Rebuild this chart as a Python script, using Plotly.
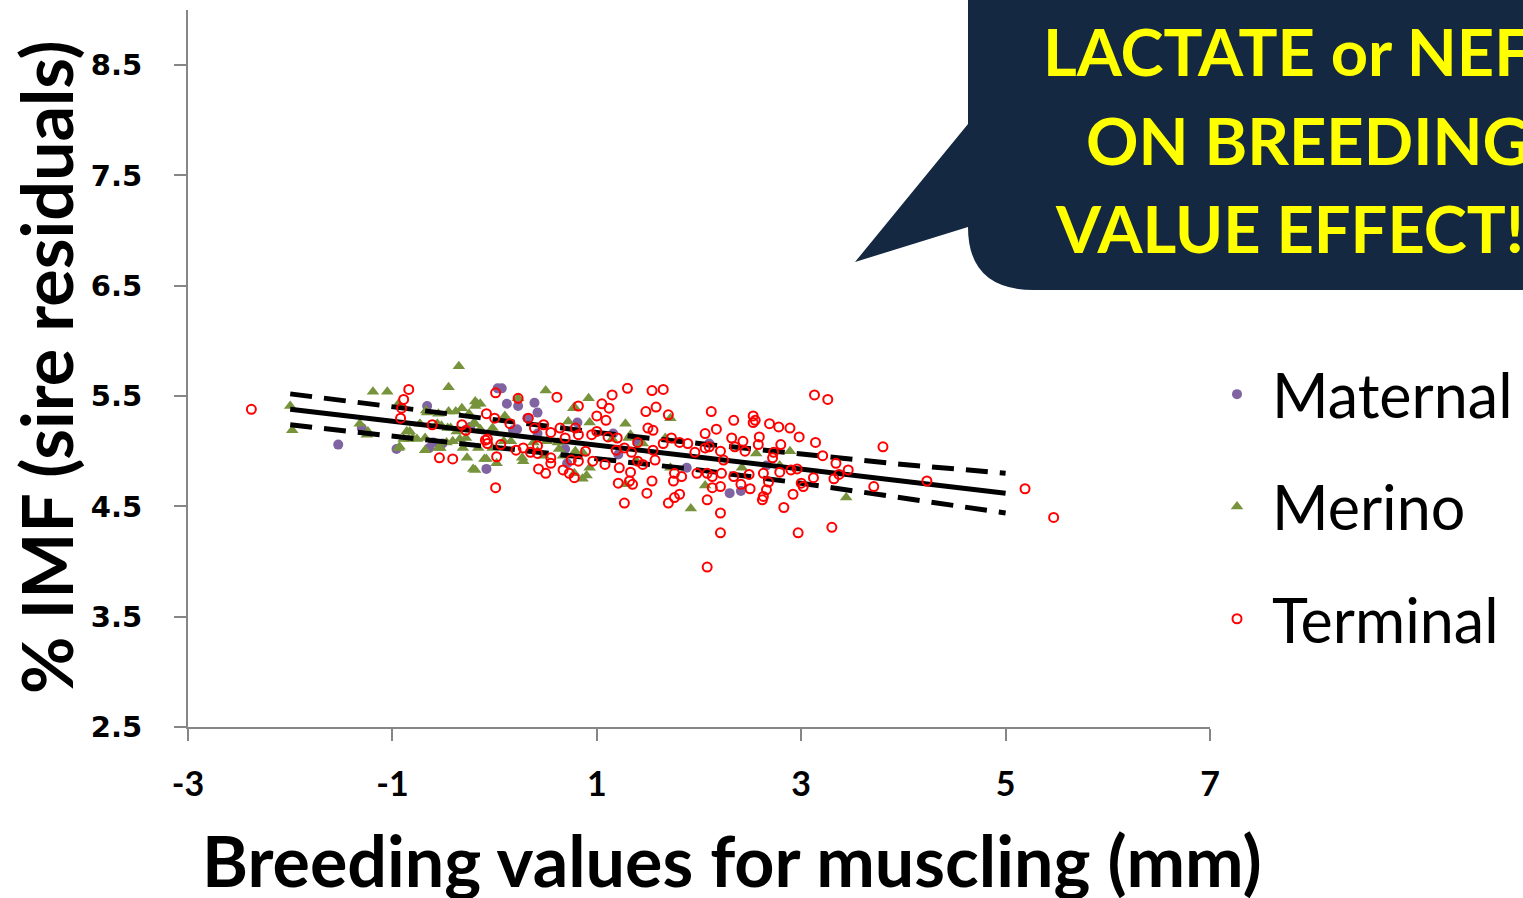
import plotly.graph_objects as go

# ---------------- data ----------------
terminal_x = [-2.38, -0.84, -0.89, -0.91, -0.92, -0.61, -0.32, -0.28, -0.08, -0.07, -0.07, -0.54, -0.41,
              0.01, 0.61, 0.23, 1.30, 1.54, 1.65, 0.82, 1.15, 1.05, 1.12, 1.58, 1.48, 1.00, 1.09, 1.70,
              2.12, 2.17, 0.00, 0.15, 0.33, 0.39, 0.48, 0.55, 0.64, 0.79, 0.82, 0.69, 0.95, 1.00, 1.11,
              1.20, 1.19, 1.27, 1.34, 1.40, 1.50, 1.55, 1.55, 1.65, 1.73, 1.81, 1.89, 1.96, 2.06, 2.10,
              2.21, 2.06, -0.09, 0.06, 0.02, 0.21, 0.28, 0.35, 0.42, 0.42, 0.55, 0.55, 0.43, 0.50, 0.67,
              0.73, 0.78, 0.75, 0.82, 0.89, 0.96, 1.08, 1.22, 1.33, 1.32, 1.35, 1.21, 1.40, 1.45, 1.57,
              1.54, 1.49, 1.76, 1.75, 1.83, 1.81, 1.76, 1.70, 1.27, 1.98, 2.08, 2.13, 2.22, 2.13, 2.21,
              2.08, 0.01, 3.13, 3.26, 2.34, 2.53, 2.55, 2.53, 2.69, 2.78, 2.89, 2.98, 2.32, 2.43, 2.59,
              2.58, 2.35, 2.45, 2.80, 3.14, 2.73, 2.72, 3.21, 3.34, 3.80, 3.46, 3.37, 2.24, 2.34, 2.49,
              2.63, 2.68, 2.79, 2.90, 2.96, 3.12, 3.32, 3.71, 4.23, 2.41, 2.50, 3.00, 3.02, 2.66, 2.63,
              2.62, 2.92, 2.83, 2.21, 2.21, 2.97, 3.30, 5.19, 5.47, 2.08]
terminal_y = [5.38, 5.56, 5.47, 5.39, 5.30, 5.24, 5.24, 5.19, 5.34, 5.11, 5.07, 4.94, 4.93,
              5.53, 5.49, 5.48, 5.57, 5.55, 5.56, 5.41, 5.51, 5.43, 5.39, 5.40, 5.36, 5.32, 5.28, 5.33,
              5.36, 5.20, 5.30, 5.25, 5.30, 5.21, 5.24, 5.17, 5.21, 5.21, 5.15, 5.12, 5.15, 5.18, 5.13,
              5.12, 5.01, 5.03, 4.99, 5.08, 5.21, 5.19, 5.01, 5.07, 5.12, 5.08, 5.07, 4.99, 5.03, 5.04,
              5.00, 5.16, 5.10, 5.06, 4.95, 5.01, 5.03, 4.99, 4.98, 5.05, 4.94, 4.89, 4.84, 4.80, 4.83,
              4.80, 4.76, 4.92, 4.91, 5.00, 4.91, 4.88, 4.85, 4.81, 4.73, 4.70, 4.71, 4.91, 4.88, 4.92,
              4.73, 4.62, 4.80, 4.73, 4.77, 4.61, 4.58, 4.53, 4.53, 4.80, 4.80, 4.77, 4.80, 4.67, 4.68,
              4.56, 4.67, 5.51, 5.47, 5.28, 5.32, 5.28, 5.26, 5.25, 5.22, 5.21, 5.13, 5.12, 5.09, 5.13,
              5.06, 5.04, 5.00, 5.06, 5.08, 4.99, 4.94, 4.96, 4.89, 5.04, 4.83, 4.79, 4.92, 4.77, 4.79,
              4.80, 4.72, 4.81, 4.83, 4.84, 4.76, 4.75, 4.68, 4.73, 4.70, 4.66, 4.71, 4.68, 4.65, 4.59,
              4.56, 4.61, 4.49, 4.44, 4.26, 4.26, 4.31, 4.66, 4.40, 3.95]

merino_x = [-0.35, -0.45, -1.19, -1.05, -2.00, -1.98, -1.32, -1.24, -1.25, -0.94, -0.67, -0.55, -0.45,
            -0.38, -0.32, -0.19, -0.19, -0.73, -0.83, -0.80, -0.89, -0.68, -0.56, -0.52, -0.46, -0.41,
            -0.34, -0.31, -0.53, -0.93, -0.21, -0.21, -0.10, 0.23, -0.66, -0.25, -0.17, -0.02, -0.43,
            -0.37, -0.19, -0.14, -0.28, -0.47, -0.86, -0.84, -0.76, -0.94, -0.68, -0.55, -0.16, -0.02,
            0.09, 0.16, 0.28, 0.02, -0.19, -0.08, -0.27, 0.38, 0.50, 0.92, 0.78, -0.14, 1.28, 0.72,
            0.93, 0.10, 1.31, 1.45, 1.67, 0.27, 0.48, 0.67, 0.87, 0.90, 0.93, 0.62, 0.51, 2.06, 1.92,
            2.56, 2.89, 2.42, 2.79, 3.44, 0.77, 1.72, 1.33, 0.63, 0.79, 0.42, 0.86, 0.78, 1.28, 1.39,
            1.15, 1.72]
merino_y = [5.77, 5.58, 5.54, 5.54, 5.41, 5.19, 5.25, 5.18, 5.15, 5.43, 5.37, 5.34, 5.36,
            5.36, 5.39, 5.45, 5.41, 5.25, 5.18, 5.12, 5.11, 5.12, 5.25, 5.23, 5.21, 5.09,
            5.11, 5.03, 5.03, 5.04, 4.84, 5.25, 4.93, 5.48, 5.35, 5.34, 5.43, 5.21, 5.21,
            5.18, 5.25, 5.20, 5.12, 5.08, 5.18, 5.11, 5.11, 5.03, 5.01, 5.03, 5.03, 5.03,
            5.09, 5.09, 4.91, 4.89, 4.83, 4.93, 4.94, 5.08, 5.55, 5.48, 5.40, 5.43, 5.25, 5.27,
            5.26, 5.32, 5.12, 5.07, 5.12, 4.94, 4.96, 4.96, 4.98, 4.78, 4.85, 5.08, 5.09, 4.69, 4.48,
            4.98, 5.00, 4.85, 4.87, 4.58, 5.39, 5.30, 5.15, 5.02, 5.00, 5.00, 4.75, 4.80, 4.70, 4.91,
            5.11, 4.85]

maternal_x = [-1.53, -1.30, -0.66, -0.96, -0.64, -0.60, -0.51, -0.08, -0.24, 0.03, 0.07, 0.12, 0.23,
              0.39, 0.42, 0.18, 0.32, 0.22, 0.42, 0.81, 1.16, 0.69, 0.71, 1.21, 1.40, 1.88, 2.10, 2.30,
              2.41, 2.66]
maternal_y = [5.06, 5.21, 5.41, 5.02, 5.03, 5.08, 5.07, 4.84, 5.22, 5.57, 5.57, 5.43, 5.41,
              5.44, 5.35, 5.19, 5.30, 5.20, 5.16, 5.26, 5.16, 5.02, 4.89, 4.97, 5.09, 4.85, 5.07, 4.62,
              4.64, 4.87]

fit_x = [-2.0, 5.0]
fit_y = [5.38, 4.62]
band_x = [-2, -1, 0, 1, 2, 3, 4, 5]
band_upper = [5.52, 5.40, 5.28, 5.17, 5.07, 4.97, 4.88, 4.80]
band_lower = [5.24, 5.14, 5.04, 4.93, 4.83, 4.71, 4.58, 4.44]

x_tick_vals = [-3, -1, 1, 3, 5, 7]
x_tick_text = ["-3", "-1", "1", "3", "5", "7"]
y_tick_vals = [2.5, 3.5, 4.5, 5.5, 6.5, 7.5, 8.5]

series_names = ["Maternal", "Merino", "Terminal"]
callout_lines = ["LACTATE or NEFA", "ON BREEDING", "VALUE EFFECT!!!"]
x_title = "Breeding values for muscling (mm)"
y_title = "% IMF (sire residuals)"

# ---------------- layout geometry (pixels) ----------------
W, H = 1523, 898
L, R, T, B = 188, 1210, 10, 727


def pxx(v):
    return (v - L) / (R - L)


def pxy(v):
    return (B - v) / (B - T)


fig = go.Figure()

fig.add_trace(go.Scatter(x=maternal_x, y=maternal_y, mode="markers", name=series_names[0],
                         marker=dict(symbol="circle", size=10, color="#8064A2")))
fig.add_trace(go.Scatter(x=merino_x, y=merino_y, mode="markers", name=series_names[1],
                         marker=dict(symbol="triangle-up", size=11, color="#77933C")))
fig.add_trace(go.Scatter(x=fit_x, y=fit_y, mode="lines", showlegend=False,
                         line=dict(color="black", width=5)))
fig.add_trace(go.Scatter(x=band_x, y=band_upper, mode="lines", showlegend=False,
                         line=dict(color="black", width=5, dash="22px,12px")))
fig.add_trace(go.Scatter(x=band_x, y=band_lower, mode="lines", showlegend=False,
                         line=dict(color="black", width=5, dash="22px,12px")))
fig.add_trace(go.Scatter(x=terminal_x, y=terminal_y, mode="markers", name=series_names[2],
                         marker=dict(symbol="circle-open", size=9, color="#FF0000",
                                     line=dict(width=2, color="#FF0000"))))

axis_common = dict(showgrid=False, zeroline=False, showline=True, linecolor="#868686",
                   linewidth=2, ticks="outside", ticklen=12, tickwidth=1.5, tickcolor="#868686")

fig.update_xaxes(range=[-3, 7], tickvals=x_tick_vals, ticktext=x_tick_text, ticklabelstandoff=14,
                 tickfont=dict(family="Lato", size=34, color="black", weight="bold"),
                 **axis_common)
fig.update_yaxes(range=[2.5, 9.0], tickvals=y_tick_vals, ticklabelstandoff=26,
                 tickfont=dict(family="DejaVu Sans", size=29, color="black", weight="bold"),
                 **axis_common)

# callout bubble
pts = [("M", 968, -30), ("L", 968, 124), ("L", 855, 262), ("L", 968, 227)]
path = ""
for c, a, b in pts:
    path += f"{c}{pxx(a):.5f},{pxy(b):.5f} "
path += f"Q{pxx(968):.5f},{pxy(290):.5f} {pxx(1034):.5f},{pxy(290):.5f} "
path += f"L{pxx(1560):.5f},{pxy(290):.5f} L{pxx(1560):.5f},{pxy(-30):.5f} Z"
fig.add_shape(type="path", path=path, xref="paper", yref="paper",
              fillcolor="#142841", line=dict(width=0), layer="above")

for line_text, line_y in zip(callout_lines, [51, 140, 228]):
    fig.add_annotation(x=pxx(1308), y=pxy(line_y), xref="paper", yref="paper",
                       text=line_text, showarrow=False, align="center",
                       xanchor="center", yanchor="middle",
                       font=dict(family="Lato", size=65, color="#FFFF00", weight="bold"))

fig.add_annotation(x=pxx(732), y=pxy(860), xref="paper", yref="paper", text=x_title,
                   showarrow=False, xanchor="center", yanchor="middle",
                   font=dict(family="Lato", size=70, color="black", weight="bold"))
fig.add_annotation(x=pxx(46), y=pxy(367), xref="paper", yref="paper", text=y_title,
                   showarrow=False, xanchor="center", yanchor="middle", textangle=-90,
                   font=dict(family="Lato", size=70, color="black", weight="bold"))

fig.update_layout(
    width=W, height=H,
    margin=dict(l=L, r=W - R, t=T, b=H - B, pad=0, autoexpand=False),
    paper_bgcolor="white", plot_bgcolor="white",
    showlegend=True,
    legend=dict(x=pxx(1202), y=pxy(348), xanchor="left", yanchor="top",
                font=dict(family="Lato", size=61, color="black"),
                tracegroupgap=30, itemwidth=60, bgcolor="rgba(0,0,0,0)", itemsizing="trace"),
)
for i, tr in enumerate(fig.data):
    tr.legendgroup = f"g{i}"

fig.write_html("out.html", config={"displayModeBar": False})
